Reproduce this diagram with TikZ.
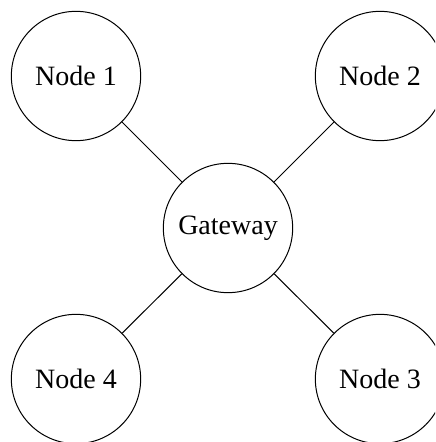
\documentclass[tikz,border=0pt]{standalone}
\usepackage{fontspec}
\setmainfont{Liberation Serif}
\begin{document}
\begin{tikzpicture}[x=0.75pt,y=-0.75pt,
  circ/.style={circle,draw,line width=0.75pt,minimum size=97pt,inner sep=0pt,font=\fontsize{21pt}{25pt}\selectfont},
  link/.style={draw,line width=0.75pt}]
\useasboundingbox (0,0) rectangle (435,442);
\clip (0,0) rectangle (435,442);
\node[circ] (g) at (228,228) {Gateway};
\node[circ] (n1) at (76,76) {Node 1};
\node[circ] (n2) at (380,76) {Node 2};
\node[circ] (n3) at (380,379) {Node 3};
\node[circ] (n4) at (76,379) {Node 4};
\draw[link] (n1) -- (g);
\draw[link] (n2) -- (g);
\draw[link] (n3) -- (g);
\draw[link] (n4) -- (g);
\end{tikzpicture}
\end{document}
